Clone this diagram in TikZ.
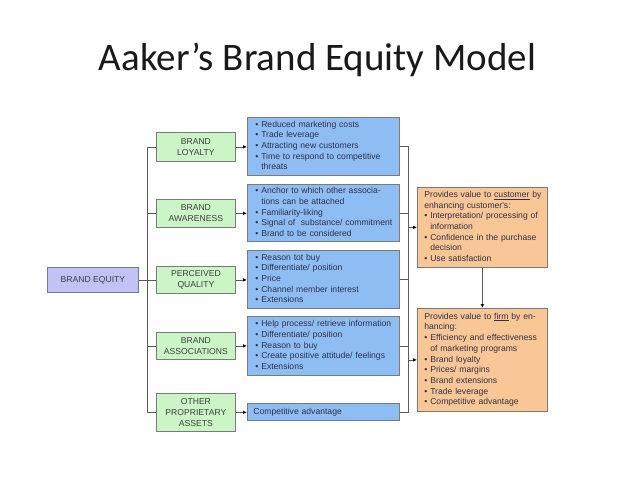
\documentclass[tikz,border=0pt]{standalone}
\usepackage{fontspec}
\usetikzlibrary{arrows.meta}
\newfontfamily\diagfont{Liberation Sans}
\newfontfamily\titlefont{Carlito}
\definecolor{bluefill}{HTML}{8EBDF3}
\definecolor{greenfill}{HTML}{CBF5C6}
\definecolor{orangefill}{HTML}{F9C796}
\definecolor{lavfill}{HTML}{C2C2F5}
\definecolor{bordergray}{HTML}{7A7A7A}
\definecolor{linegray}{HTML}{5A5A5A}
\definecolor{txt}{HTML}{30304A}
\definecolor{gtxt}{HTML}{3E3E3E}
\newcommand\bl{\textbullet\ }
\newcommand\ind{\hphantom{\textbullet\ }}
\newcommand\lns[1]{\begin{tabular}{@{}l@{}}#1\end{tabular}}
\tikzset{
  box/.style={draw=bordergray, line width=0.8pt, anchor=north west, inner ysep=0pt,
    font={\diagfont\fontsize{8.6}{10.7}\selectfont}},
  gbox/.style={box, fill=greenfill, text=gtxt, align=center, minimum width=79pt, inner xsep=0pt},
  bbox/.style={box, fill=bluefill, text=txt, align=left, inner xsep=8pt, text width=136pt},
  obox/.style={box, fill=orangefill, text=txt, align=left, inner xsep=7pt, text width=116pt},
  conn/.style={draw=linegray, line width=0.8pt},
  arr/.style={conn, -{Latex[length=4pt,width=3.6pt,fill=black,color=black]}},
}
\begin{document}
\begin{tikzpicture}[x=1pt,y=-1pt]
\useasboundingbox (0,0) rectangle (638,479);
\node[anchor=base, font={\titlefont\fontsize{39}{44}\selectfont}, text=black!90] (title) at (317.5,70) {Aaker’s Brand Equity Model};

\node[box, fill=lavfill, text=gtxt, minimum width=91pt, minimum height=25pt, inner xsep=0pt] (be) at (47,267) {BRAND EQUITY};

\node[gbox, minimum height=29pt] (bl) at (156,132) {BRAND\\LOYALTY};
\node[gbox, minimum height=28pt] (ba) at (156,199) {BRAND\\AWARENESS};
\node[gbox, minimum height=27pt] (pq) at (156,266) {PERCEIVED\\QUALITY};
\node[gbox, minimum height=27pt] (bas) at (156,332) {BRAND\\ASSOCIATIONS};
\node[gbox, minimum height=38pt] (opa) at (156,393) {OTHER\\PROPRIETARY\\ASSETS};

\node[bbox, minimum height=58pt] (b1) at (247,117) {\lns{\bl Reduced marketing costs\\ \bl Trade leverage\\ \bl Attracting new customers\\ \bl Time to respond to competitive\\ \ind threats}};
\node[bbox, minimum height=57pt] (b2) at (247,184) {\lns{\bl Anchor to which other associa-\\ \ind tions can be attached\\ \bl Familiarity-liking\\ \bl Signal of\ \ substance/ commitment\\ \bl Brand to be considered}};
\node[bbox, minimum height=58pt] (b3) at (247,250) {\lns{\bl Reason tot buy\\ \bl Differentiate/ position\\ \bl Price\\ \bl Channel member interest\\ \bl Extensions}};
\node[bbox, minimum height=59pt] (b4) at (247,316) {\lns{\bl Help process/ retrieve information\\ \bl Differentiate/ position\\ \bl Reason to buy\\ \bl Create positive attitude/ feelings\\ \bl Extensions}};
\node[bbox, minimum height=17pt, inner xsep=6pt, text width=140pt] (b5) at (247,403) {\lns{Competitive advantage}};

\node[obox, minimum height=80pt] (o1) at (417,187) {\lns{Provides value to \underline{customer} by\\ enhancing customer's:\\ \bl Interpretation/ processing of\\ \ind information\\ \bl Confidence in the purchase\\ \ind decision\\ \bl Use satisfaction}};
\node[obox, minimum height=103pt] (o2) at (417,308) {\lns{Provides value to \underline{firm} by en-\\ hancing:\\ \bl Efficiency and effectiveness\\ \ind of marketing programs\\ \bl Brand loyalty\\ \bl Prices/ margins\\ \bl Brand extensions\\ \bl Trade leverage\\ \bl Competitive advantage}};

\coordinate (tx) at (147,0);
\coordinate (rx) at (408,0);

% left trunk
\draw[conn] (be.east) -- (pq.west);
\draw[conn] (bl.west) -- (bl.west -| tx) -- (opa.west -| tx) -- (opa.west);
\draw[conn] (ba.west) -- (ba.west -| tx);
\draw[conn] (bas.west) -- (bas.west -| tx);

% green to blue
\draw[arr] (bl.east) -- (bl.east -| b1.west);
\draw[arr] (ba.east) -- (ba.east -| b2.west);
\draw[arr] (pq.east) -- (pq.east -| b3.west);
\draw[arr] (bas.east) -- (bas.east -| b4.west);
\draw[arr] (opa.east) -- (opa.east -| b5.west);

% right bus
\draw[conn] (b1.east) -- (b1.east -| rx) -- (b5.east -| rx) -- (b5.east);
\draw[conn] (b2.east) -- (b2.east -| rx);
\draw[conn] (b3.east) -- (b3.east -| rx);
\draw[conn] (b4.east) -- (b4.east -| rx);

\draw[arr] (o1.west -| rx) -- (o1.west);
\draw[arr] (o2.west -| rx) -- (o2.west);
\draw[arr] (o1.south) -- (o2.north);
\end{tikzpicture}
\end{document}
